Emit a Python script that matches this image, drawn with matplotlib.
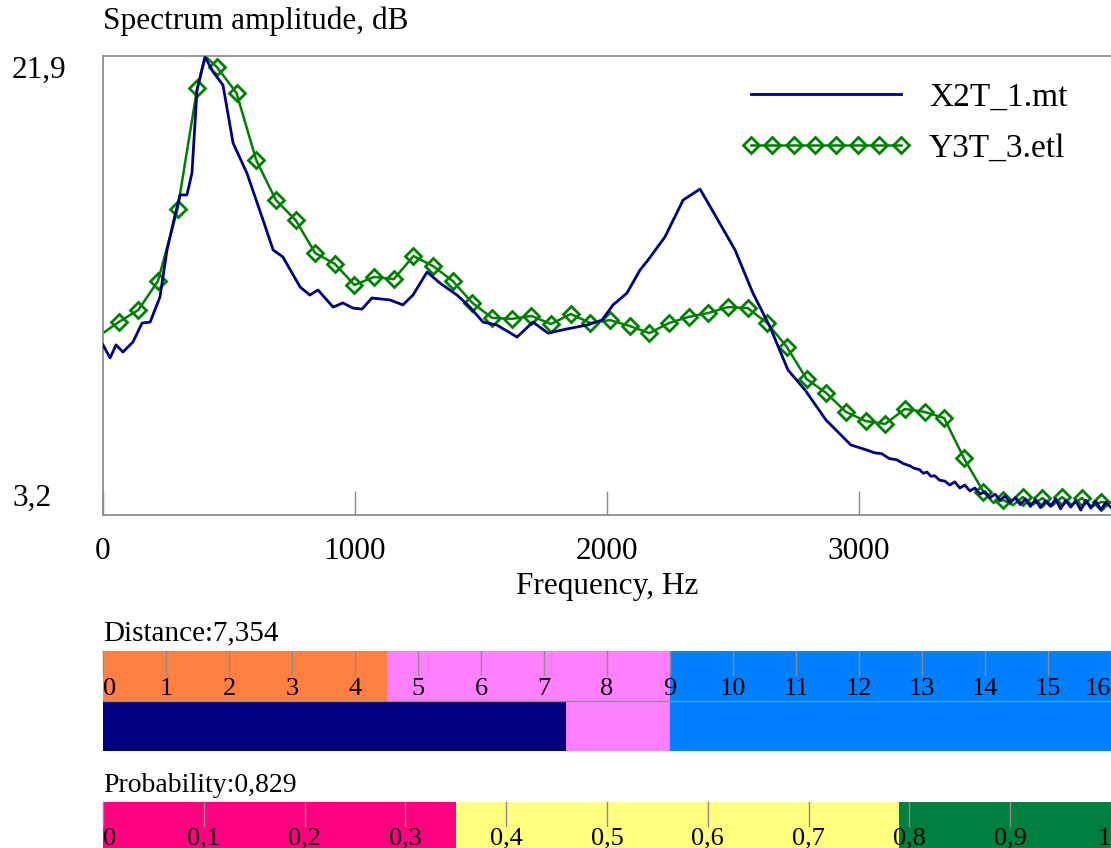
import matplotlib
matplotlib.use("Agg")
import matplotlib.pyplot as plt

plt.rcParams['font.family'] = ['Liberation Serif', 'DejaVu Serif']

# spectrum X2T_1.mt (Hz, dB)
blue_freq = [0, 28, 52, 79, 119, 155, 187, 226, 254, 286, 306, 333, 353, 373, 405, 437,
             476, 516, 571, 635, 675, 714, 782, 821, 853, 913, 952, 992, 1028, 1067, 1139,
             1190, 1230, 1286, 1337, 1405, 1456, 1508, 1563, 1643, 1706, 1766, 1841, 1921,
             1980, 2024, 2079, 2131, 2163, 2230, 2302, 2369, 2440, 2508, 2579, 2647, 2718,
             2786, 2869, 2968, 3000, 3030, 3063, 3090, 3120, 3150, 3175, 3202, 3220, 3240,
             3255, 3270, 3285, 3300, 3320, 3341, 3360, 3380,
             3400, 3420, 3440, 3460, 3480, 3500, 3520, 3540, 3560, 3580, 3600, 3620, 3640,
             3660, 3680, 3700, 3720, 3740, 3760, 3780, 3800, 3820, 3840, 3860, 3880, 3900,
             3920, 3940, 3960, 3980, 4000]
blue_db = [10.13, 9.60, 10.13, 9.84, 10.25, 11.02, 11.06, 12.08, 14.0, 15.42, 16.24, 16.24,
           17.13, 20.51, 21.85, 21.25, 20.72, 18.36, 17.13, 15.22, 14.0, 13.71, 12.49, 12.16,
           12.37, 11.67, 11.84, 11.63, 11.59, 12.04, 11.96, 11.76, 12.16, 13.10, 12.65, 12.16,
           11.67, 11.06, 10.94, 10.45, 11.06, 10.61, 10.78, 10.94, 11.14, 11.76, 12.24, 13.18,
           13.59, 14.53, 16.03, 16.48, 15.22, 14.0, 12.24, 10.86, 9.11, 8.29, 7.07, 6.05,
           5.95, 5.85, 5.73, 5.70, 5.50, 5.45, 5.30, 5.20, 5.10, 5.05, 4.90, 4.95, 4.78, 4.80,
           4.62, 4.58, 4.42, 4.55, 4.30, 4.42, 4.18, 4.30,
           4.05, 4.15, 3.90, 4.05, 3.80, 3.98, 3.70, 3.90, 3.62, 3.85, 3.55, 3.82, 3.50, 3.78,
           3.55, 3.85, 3.45, 3.80, 3.52, 3.78, 3.40, 3.80, 3.48, 3.75, 3.42, 3.72, 3.50]

# spectrum Y3T_3.etl, points with a marker
green_mark_freq = [62, 140, 218, 296, 374, 452, 530, 608, 686, 764, 842, 920, 998, 1076,
                   1154, 1232, 1310, 1388, 1466, 1544, 1622, 1700, 1778, 1856, 1934, 2012,
                   2090, 2168, 2246, 2324, 2402, 2480, 2558, 2636, 2714, 2792, 2870, 2948,
                   3026, 3104, 3182, 3260, 3338, 3416, 3494, 3572, 3650, 3728, 3806, 3884, 3962]
green_mark_db = [11.06, 11.55, 12.73, 15.67, 20.60, 21.45, 20.39, 17.66, 16.03, 15.22, 13.87,
                 13.43, 12.57, 12.90, 12.81, 13.75, 13.34, 12.73, 11.84, 11.23, 11.19, 11.31,
                 10.98, 11.39, 11.02, 11.14, 10.90, 10.61, 11.02, 11.27, 11.43, 11.67, 11.63,
                 11.02, 10.04, 8.74, 8.17, 7.40, 7.03, 6.91, 7.52, 7.40, 7.15, 5.52, 4.14,
                 3.81, 3.93, 3.89, 3.93, 3.89, 3.73]
# extra line points between markers
green_extra_freq = [0, 405, 3533, 3611, 3689, 3767, 3845, 3923, 4000]
green_extra_db = [10.61, 21.9, 3.70, 3.60, 3.62, 3.58, 3.60, 3.55, 3.70]

series_names = ["X2T_1.mt", "Y3T_3.etl"]

# distance scale
dist_value = 7.354
dist_max = 16
dist_bounds = [0, 4.5, 9, 16]
dist_colors = ["#FF8040", "#FF80FF", "#0080FF"]

# probability scale
prob_value = 0.829
prob_bounds = [0, 0.35, 0.79, 1.0]
prob_colors = ["#FF0080", "#FFFF80", "#008040"]
prob_labels = ["0", "0,1", "0,2", "0,3", "0,4", "0,5", "0,6", "0,7", "0,8", "0,9", "1"]

FS = 22.5      # main plot texts
FS_LEG = 24
FS_BAR = 19    # bar scale labels
GRAY = "#8c8c8c"
W, H = 1111, 848

fig = plt.figure(figsize=(W / 100, H / 100), dpi=100)

def fax(x0, y0, x1, y1):
    return fig.add_axes([x0 / W, 1 - y1 / H, (x1 - x0) / W, (y1 - y0) / H])

# ---- spectrum plot
ax = fax(103, 56, 1111, 515)
gpts = sorted(zip(green_mark_freq + green_extra_freq, green_mark_db + green_extra_db))
gf = [p[0] for p in gpts]
gv = [p[1] for p in gpts]
marks = [i for i, f in enumerate(gf) if f in green_mark_freq]
ax.plot(blue_freq, blue_db, color="#000080", lw=2.0, label=series_names[0], zorder=3)
ax.plot(gf, gv, color="#008000", lw=1.8, marker="D", ms=8, mfc="none", mew=2.0,
        markevery=marks, label=series_names[1], zorder=2)
ax.set_xlim(0, 4000)
ax.set_ylim(3.2, 21.9)
ax.set_yticks([])
ax.set_xticks([0, 1000, 2000, 3000])
ax.set_xticklabels(["0", "1000", "2000", "3000"], fontsize=FS)
ax.tick_params(axis="x", direction="in", length=17, color=GRAY, width=1, pad=16)
for s in ["left", "top", "bottom"]:
    ax.spines[s].set_color(GRAY)
    ax.spines[s].set_linewidth(1.3)
ax.spines["right"].set_visible(False)
ax.set_xlabel("Frequency, Hz", fontsize=FS, labelpad=4)
leg = ax.legend(loc="upper left", bbox_to_anchor=(724 / W, 1 - 66 / H), bbox_transform=fig.transFigure,
                frameon=False, fontsize=FS_LEG, numpoints=8, handlelength=5.1, handletextpad=0.55,
                labelspacing=0.6, borderpad=0)
fig.text(12 / W, 1 - 56 / H, "21,9", fontsize=FS, ha="left", va="top")
fig.text(12 / W, 1 - 513 / H, "3,2", fontsize=FS, ha="left", va="bottom")
fig.text(103 / W, 1 - 21 / H, "Spectrum amplitude, dB", fontsize=FS, ha="left", va="center")

# ---- distance bar
axd = fax(103, 651, 1111, 751)
for i, c in enumerate(dist_colors):
    axd.barh(0.75, dist_bounds[i + 1] - dist_bounds[i], left=dist_bounds[i], height=0.5,
             color=c, edgecolor="none")
axd.barh(0.25, dist_value, left=0, height=0.5, color="#000080", edgecolor="none")
axd.barh(0.25, dist_bounds[2] - dist_value, left=dist_value, height=0.5, color=dist_colors[1],
         edgecolor="none")
axd.barh(0.25, dist_bounds[3] - dist_bounds[2], left=dist_bounds[2], height=0.5,
         color=dist_colors[2], edgecolor="none")
axd.axhline(0.5, color=GRAY, lw=1)
axd.set_xlim(0, dist_max)
axd.set_ylim(0, 1)
axd.axis("off")
for k in range(dist_max + 1):
    axd.plot([k, k], [1, 0.76], color=GRAY, lw=1, clip_on=False)
    ha = "left" if k == 0 else ("right" if k == dist_max else "center")
    axd.text(k, 0.62, str(k), fontsize=FS_BAR, ha=ha, va="center")
fig.text(103 / W, 1 - 633 / H, "Distance:" + f"{dist_value:.3f}".replace(".", ","),
         fontsize=21, ha="left", va="center")

# ---- probability bar
axp = fax(103, 802, 1111, 848)
for i, c in enumerate(prob_colors):
    axp.barh(0.5, prob_bounds[i + 1] - prob_bounds[i], left=prob_bounds[i], height=1,
             color=c, edgecolor="none")
axp.set_xlim(0, 1)
axp.set_ylim(0, 1)
axp.axis("off")
for k, lab in enumerate(prob_labels):
    x = k / 10
    axp.plot([x, x], [1, 0.48], color=GRAY, lw=1, clip_on=False)
    ha = "left" if k == 0 else ("right" if k == 10 else "center")
    axp.text(x, 0.2, lab, fontsize=FS_BAR, ha=ha, va="center")
fig.text(103 / W, 1 - 785 / H, "Probability:" + f"{prob_value:.3f}".replace(".", ","),
         fontsize=20, ha="left", va="center")

fig.savefig("out.png", dpi=100)
